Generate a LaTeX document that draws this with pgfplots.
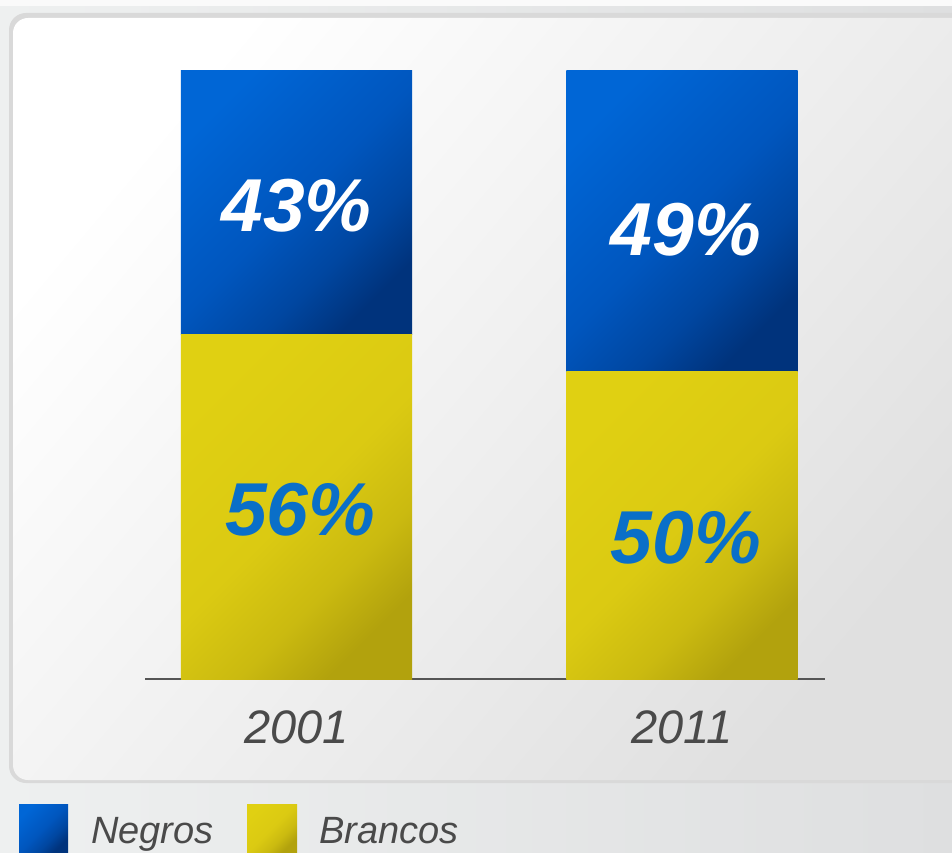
\documentclass[border=0pt]{standalone}
\usepackage{pgfplots}
\pgfplotsset{compat=1.18}
\usepackage{fontspec}
\setmainfont{Liberation Sans}

\definecolor{bluA}{HTML}{0066D6}
\definecolor{bluB}{HTML}{0056BE}
\definecolor{bluC}{HTML}{00337C}
\definecolor{yelA}{HTML}{E0D012}
\definecolor{yelB}{HTML}{DBCA12}
\definecolor{yelC}{HTML}{B2A20D}
\definecolor{lblblue}{HTML}{0A6FC8}
\definecolor{txtgray}{HTML}{4A4A4A}
\definecolor{axgray}{HTML}{555555}
\definecolor{bgL}{HTML}{EEF0F0}
\definecolor{bgR}{HTML}{DEDFE0}
\definecolor{panR}{HTML}{E0E0E0}

\pgfdeclareverticalshading{bluesh}{100bp}{color(0bp)=(bluC); color(25bp)=(bluC);
  color(36bp)=(bluC!45!bluB); color(50bp)=(bluB); color(75bp)=(bluA); color(100bp)=(bluA)}
\pgfdeclareverticalshading{yelsh}{100bp}{color(0bp)=(yelC); color(25bp)=(yelC);
  color(36bp)=(yelC!40!yelB); color(50bp)=(yelB); color(75bp)=(yelA); color(100bp)=(yelA)}
\pgfdeclareverticalshading{pansh}{100bp}{color(0bp)=(panR); color(25bp)=(panR);
  color(55bp)=(white!60!panR); color(75bp)=(white); color(100bp)=(white)}

\pgfplotsset{
  barax/.style={
    at={(145pt,173pt)}, anchor=south west,
    scale only axis, width=680pt, height=609pt,
    xmin=-0.393, xmax=1.371, ymin=0, ymax=99,
    ybar stacked, bar width=231pt, clip=false,
  },
  brancos/.style={draw=none, shading=yelsh, shading angle=45},
  negros/.style={draw=none, shading=bluesh, shading angle=45},
}
\tikzset{pct/.style={font=\fontsize{75}{80}\selectfont\bfseries\itshape}}

\begin{document}
\begin{tikzpicture}[x=1pt,y=1pt]
\useasboundingbox (0,0) rectangle (952,852);
% background and panel
\shade[left color=bgL, right color=bgR] (0,0) rectangle (952,852);
\fill[white!96!gray] (0,846) rectangle (952,852);
\fill[black!15, rounded corners=17pt] (9,69) rectangle (975,839);
\shade[shading=pansh, shading angle=50, rounded corners=15pt] (13,72) rectangle (975,834);

% 2001
\begin{axis}[barax,
    axis x line=bottom, axis y line=none,
    axis line style={draw=axgray, line width=2pt, -},
    xtick={0,1}, xticklabels={2001,2011},
    major tick length=0, ytick=\empty,
    xticklabel style={font=\fontsize{47}{50}\selectfont\itshape,
        text=txtgray, anchor=center, yshift=-48pt},
]
\addplot[brancos] coordinates {(0,56)};
\addplot[negros] coordinates {(0,43)};
\coordinate (b1) at (axis cs:0.01,27.5);
\coordinate (n1) at (axis cs:0,77);
\end{axis}

% 2011
\begin{axis}[barax, hide axis]
\addplot[brancos] coordinates {(1,50)};
\addplot[negros] coordinates {(1,49)};
\coordinate (b2) at (axis cs:1.01,22.9);
\coordinate (n2) at (axis cs:1.01,73);
\end{axis}

\node[pct, text=white] at (n1) {43\%};
\node[pct, text=lblblue] at (b1) {56\%};
\node[pct, text=white] at (n2) {49\%};
\node[pct, text=lblblue] at (b2) {50\%};

% legend
\shade[shading=bluesh, shading angle=45] (19,0) rectangle (68,48);
\shade[shading=yelsh, shading angle=45] (247,0) rectangle (297,48);
\node[anchor=base west, inner sep=0, font=\fontsize{38}{42}\selectfont\itshape, text=txtgray] at (91,9) {Negros};
\node[anchor=base west, inner sep=0, font=\fontsize{38}{42}\selectfont\itshape, text=txtgray] at (319,9) {Brancos};
\end{tikzpicture}
\end{document}
